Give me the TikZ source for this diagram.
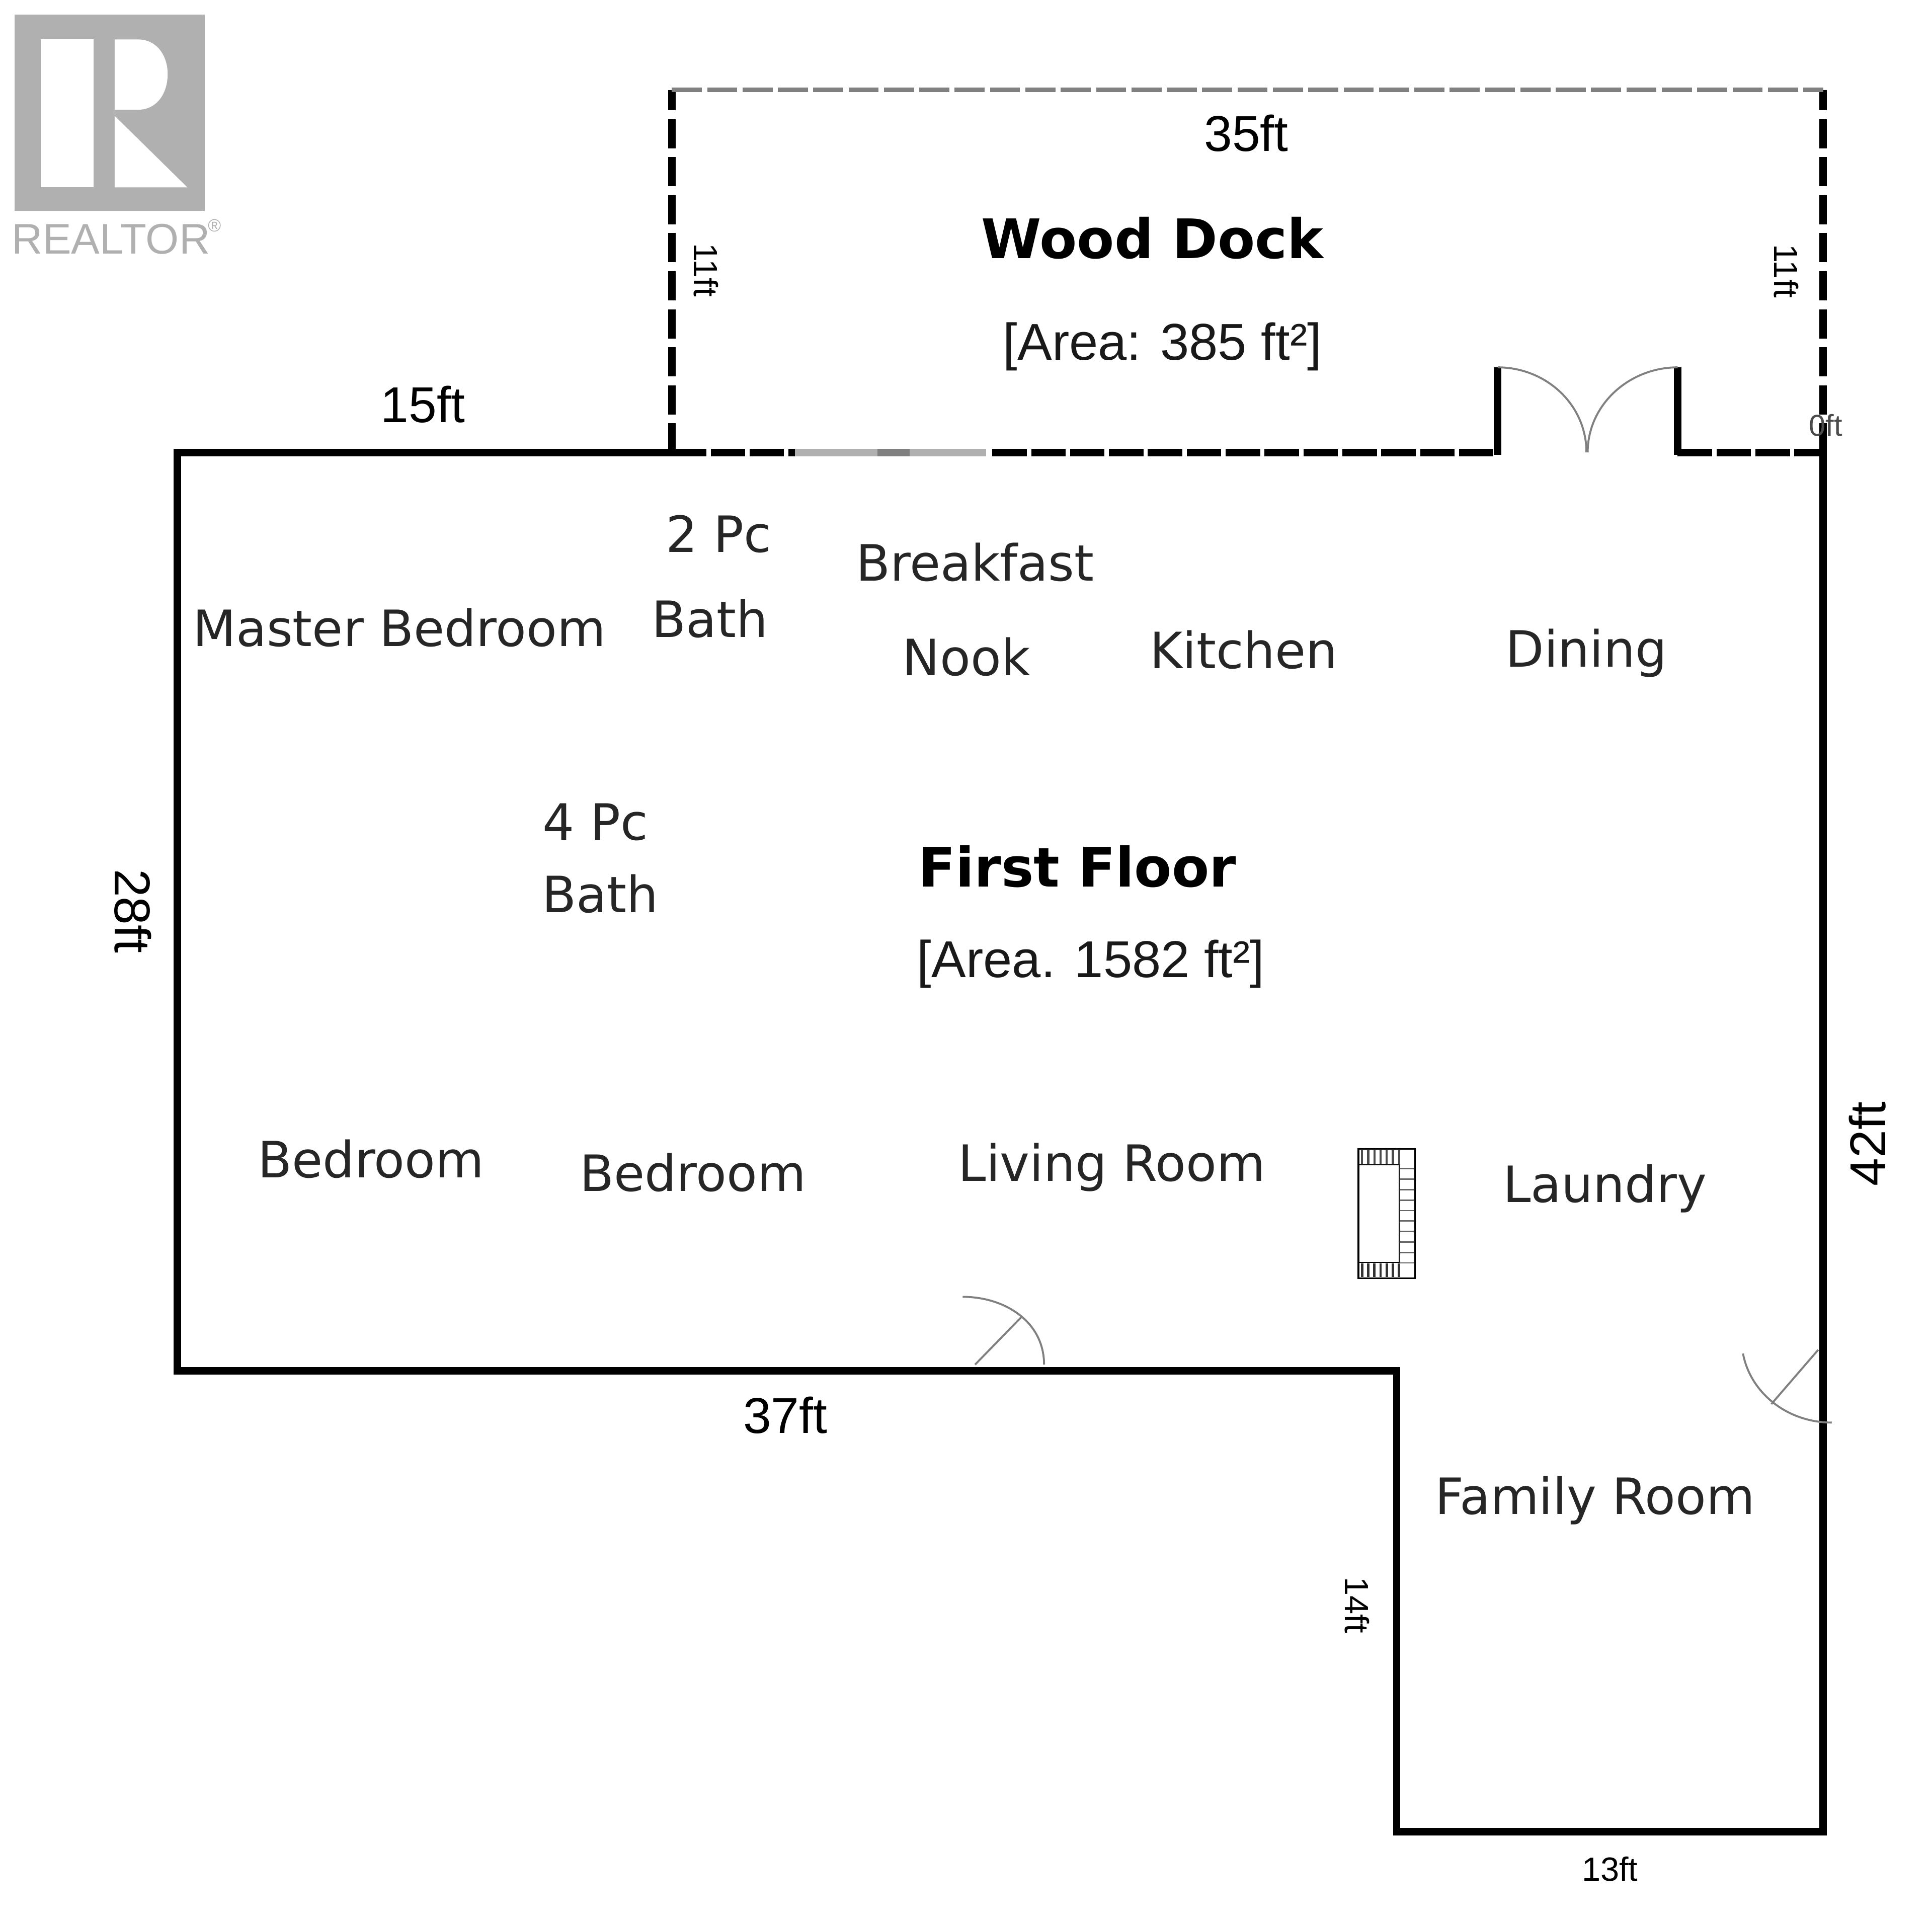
\documentclass[tikz,border=0pt]{standalone}
\usepackage{fontspec}
\setmainfont{Liberation Sans}
\newfontfamily\roomfont{DejaVu Sans}
\usepackage{xcolor}
\definecolor{logogray}{HTML}{B0B0B0}
\tikzset{
  wall/.style={line width=4.2pt},
  deckside/.style={line width=4.2pt,dash pattern=on 16.5pt off 5pt},
  deckwall/.style={line width=4.2pt,dash pattern=on 19.5pt off 2.5pt},
  dooredge/.style={color=gray,line width=1.1pt},
  room/.style={font=\roomfont\fontsize{28.3}{32}\selectfont,text=black!85},
  dimtext/.style={font=\fontsize{28.5}{32}\selectfont,inner sep=0pt},
  smalldim/.style={font=\fontsize{19}{22}\selectfont,inner sep=0pt},
  areatext/.style={font=\fontsize{29.3}{34}\selectfont,text=black!90},
  titletext/.style={font=\roomfont\bfseries\fontsize{30.8}{36}\selectfont}
}
\begin{document}
\begin{tikzpicture}[x=0.0245cm,y=-0.0245cm]
\useasboundingbox (0,0) rectangle (1567.35,1556.33);
% logo
\fill[logogray] (12,12) rectangle (166,171);
\fill[white] (33,32) rectangle (76,152);
\fill[white] (93,32) -- (112,32) .. controls (127,32) and (136,45) .. (136,60) .. controls (136,76) and (127,89) .. (112,89) -- (93,89) -- cycle;
\fill[white] (93,94) -- (152,152) -- (93,152) -- cycle;
\node (realtor) at (90,194) [inner sep=0pt,text=logogray,font=\fontsize{24.2}{26}\selectfont] {REALTOR};
\node (regmark) at (174,183) [inner sep=0pt,text=logogray,font=\fontsize{10}{11}\selectfont] {®};
% walls
\draw[wall] (545,367) -- (144,367) -- (144,1112) -- (1133,1112) -- (1133,1486) -- (1479,1486) -- (1479,365);
\draw[wall] (1215,298) -- (1215,369);
\draw[wall] (1361,298) -- (1361,369);
% deck
\draw[deckside] (545,367) -- (545,73);
\draw[deckside] (1479,367) -- (1479,73);
\draw[deckwall] (545,367) -- (645,367);
\draw[deckwall] (805,367) -- (1215,367);
\draw[deckwall] (1361,367) -- (1479,367);
\draw[color=gray,line width=2.6pt,dash pattern=on 17pt off 3pt] (545,73) -- (1479,73);
\draw[color=logogray,line width=4.2pt] (645,367) -- (800,367);
\draw[color=gray,line width=4.2pt] (712,367) -- (738,367);
% doors
\draw[dooredge] (1215,298) .. controls (1254,298) and (1287,328) .. (1287,367);
\draw[dooredge] (1361,298) .. controls (1322,298) and (1288,328) .. (1288,367);
\draw[dooredge] (781,1052) .. controls (815,1052) and (847,1072) .. (847,1107);
\draw[dooredge] (791,1107) -- (829,1068);
\draw[dooredge] (1414,1098) .. controls (1420,1130) and (1450,1154) .. (1486,1154);
\draw[dooredge] (1437,1139) -- (1475,1095);
% fireplace
\draw[line width=1pt] (1102,932) rectangle (1148,1037);
\draw[line width=0.6pt] (1102,945) -- (1135,945) -- (1135,1024) -- (1102,1024);
\foreach \i in {0,...,6} {
  \draw[line width=1.2pt,color=black!70] (1105+\i*5,933) -- (1105+\i*5,944);
  \draw[line width=1.4pt,color=black!80] (1105+\i*5,1025) -- (1105+\i*5,1036);
}
\foreach \i in {0,...,9} {
  \draw[line width=0.8pt,color=black!60] (1136,948+\i*8.5) -- (1147,948+\i*8.5);
}
% labels
\node (deckwidth) at (1011,108) [dimtext] {35ft};
\node (decktitle) at (935,193) [titletext] {Wood Dock};
\node (deckarea) at (943,281) [areatext] {[Area: 385 ft²]};
\node (deckleft) at (573,219) [smalldim,rotate=-90] {11ft};
\node (deckright) at (1449,220) [smalldim,rotate=-90] {11ft};
\node (topwall) at (343,328) [dimtext] {15ft};
\node (zerowall) at (1481,345) [inner sep=0pt,text=black!70,font=\fontsize{17}{19}\selectfont] {0ft};
\node (leftwall) at (108,739) [dimtext,rotate=-90] {28ft};
\node (rightwall) at (1515,928) [dimtext,rotate=90] {42ft};
\node (bottomwall) at (637,1148) [dimtext] {37ft};
\node (stepwall) at (1101,1302) [smalldim,rotate=-90] {14ft};
\node (endwall) at (1306,1516) [smalldim] {13ft};
\node (master) at (324,509) [room] {Master Bedroom};
\node (twopc) at (583,433) [room] {2 Pc};
\node (twobath) at (576,502) [room] {Bath};
\node (breakfast) at (791,456) [room] {Breakfast};
\node (nook) at (784,533) [room] {Nook};
\node (kitchen) at (1009,527) [room] {Kitchen};
\node (dining) at (1287,530) [room] {Dining};
\node (fourpc) at (483,667) [room] {4 Pc};
\node (fourbath) at (487,725) [room] {Bath};
\node (floortitle) at (874,703) [titletext] {First Floor};
\node (floorarea) at (885,782) [areatext] {[Area. 1582 ft²]};
\node (bedone) at (301,940) [room] {Bedroom};
\node (bedtwo) at (562,951) [room] {Bedroom};
\node (living) at (902,947) [room] {Living Room};
\node (laundry) at (1302,964) [room] {Laundry};
\node (family) at (1294,1217) [room] {Family Room};
\end{tikzpicture}
\end{document}
